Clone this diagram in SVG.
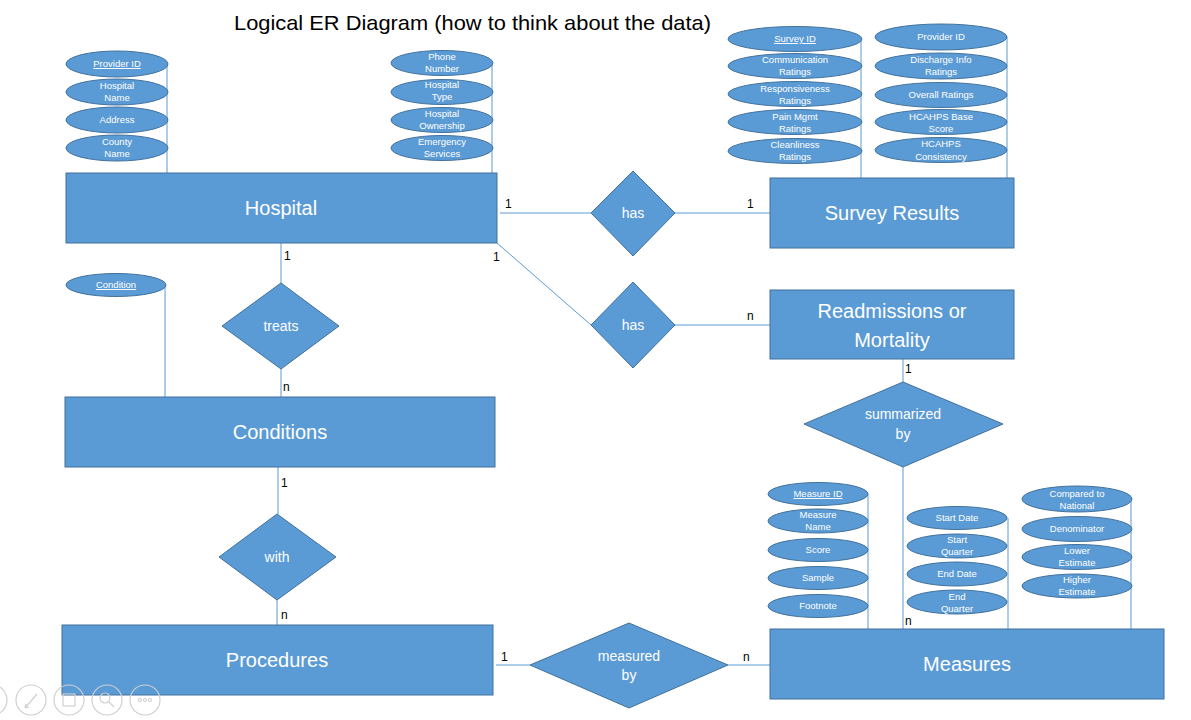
<svg xmlns="http://www.w3.org/2000/svg" width="1191" height="720" viewBox="0 0 1191 720">
<style>
.ent{fill:#5B9BD5;stroke:#41719C;stroke-width:1}
.rel{fill:#5B9BD5;stroke:#41719C;stroke-width:1}
.att{fill:#5B9BD5;stroke:#41719C;stroke-width:1}
.et{font-family:"Liberation Sans",Arial,sans-serif;font-size:20px;fill:#fff;text-anchor:middle}
.rt{font-family:"Liberation Sans",Arial,sans-serif;font-size:14px;fill:#fff;text-anchor:middle}
.at{font-family:"Liberation Sans",Arial,sans-serif;font-size:9.5px;fill:#fff;text-anchor:middle}
.u{text-decoration:underline}
.ln{stroke:#5B9BD5;stroke-width:1;fill:none}
.lb{font-family:"Liberation Sans",Arial,sans-serif;font-size:12px;fill:#000}
.ic{fill:none;stroke:#d0d0d0;stroke-width:1.2}
</style>
<rect width="1191" height="720" fill="#fff"/>
<text x="234" y="30" font-family="Liberation Sans,Arial,sans-serif" font-size="21" textLength="477" lengthAdjust="spacingAndGlyphs" fill="#000">Logical ER Diagram (how to think about the data)</text>

<g id="connectors">
<line class="ln" x1="167" y1="64" x2="167" y2="173"/>
<line class="ln" x1="492" y1="63" x2="492" y2="173"/>
<line class="ln" x1="861" y1="39" x2="861" y2="178"/>
<line class="ln" x1="1007" y1="37" x2="1007" y2="178"/>
<line class="ln" x1="165" y1="285" x2="165" y2="397"/>
<line class="ln" x1="868" y1="494" x2="868" y2="629"/>
<line class="ln" x1="1008" y1="518" x2="1008" y2="629"/>
<line class="ln" x1="1131" y1="499" x2="1131" y2="629"/>
<line class="ln" x1="500" y1="213" x2="591" y2="213"/>
<line class="ln" x1="675" y1="213" x2="770" y2="213"/>
<line class="ln" x1="497" y1="243" x2="591" y2="325"/>
<line class="ln" x1="675" y1="325" x2="770" y2="325"/>
<line class="ln" x1="281" y1="243" x2="281" y2="283"/>
<line class="ln" x1="281" y1="369" x2="281" y2="397"/>
<line class="ln" x1="278" y1="467" x2="278" y2="514"/>
<line class="ln" x1="277" y1="600" x2="277" y2="625"/>
<line class="ln" x1="496" y1="665" x2="530" y2="665"/>
<line class="ln" x1="728" y1="665" x2="770" y2="665"/>
<line class="ln" x1="903" y1="359" x2="903" y2="382"/>
<line class="ln" x1="903" y1="467" x2="903" y2="629"/>
<text class="lb" x="505" y="208">1</text>
<text class="lb" x="747" y="208">1</text>
<text class="lb" x="493" y="261">1</text>
<text class="lb" x="747" y="320">n</text>
<text class="lb" x="284" y="260">1</text>
<text class="lb" x="283" y="391">n</text>
<text class="lb" x="281" y="487">1</text>
<text class="lb" x="281" y="619">n</text>
<text class="lb" x="501" y="661">1</text>
<text class="lb" x="743" y="661">n</text>
<text class="lb" x="905" y="373">1</text>
<text class="lb" x="905" y="625">n</text>
</g>

<g id="hospital"><rect class="ent" x="66" y="173" width="431" height="70"/><text class="et" x="281" y="215">Hospital</text></g>
<g id="survey-results"><rect class="ent" x="770" y="178" width="244" height="70"/><text class="et" x="892" y="220">Survey Results</text></g>
<g id="readmissions"><rect class="ent" x="770" y="290" width="244" height="69"/><text class="et" x="892" y="318">Readmissions or</text><text class="et" x="892" y="347">Mortality</text></g>
<g id="conditions"><rect class="ent" x="65" y="397" width="430" height="70"/><text class="et" x="280" y="439">Conditions</text></g>
<g id="procedures"><rect class="ent" x="62" y="625" width="431" height="70"/><text class="et" x="277" y="667">Procedures</text></g>
<g id="measures"><rect class="ent" x="770" y="629" width="394" height="70"/><text class="et" x="967" y="671">Measures</text></g>

<g id="rel-has-survey"><polygon class="rel" points="633,171 675,213 633,256 591,213"/><text class="rt" x="633" y="218">has</text></g>
<g id="rel-has-readm"><polygon class="rel" points="633,282 675,325 633,368 591,325"/><text class="rt" x="633" y="330">has</text></g>
<g id="rel-treats"><polygon class="rel" points="281,283 339,326 281,369 222,326"/><text class="rt" x="281" y="331">treats</text></g>
<g id="rel-with"><polygon class="rel" points="277,514 336,557 277,600 219,557"/><text class="rt" x="277" y="562">with</text></g>
<g id="rel-summarized"><polygon class="rel" points="903,382 1003,424 903,467 804,424"/><text class="rt" x="903" y="419">summarized</text><text class="rt" x="903" y="439">by</text></g>
<g id="rel-measured"><polygon class="rel" points="629,623 728,665 629,708 530,665"/><text class="rt" x="629" y="661">measured</text><text class="rt" x="629" y="680">by</text></g>

<g id="attr-hospital-1">
<ellipse class="att" cx="117" cy="64" rx="51" ry="13"/><text class="at u" x="117" y="67">Provider ID</text>
<ellipse class="att" cx="117" cy="92" rx="51" ry="13"/><text class="at" x="117" y="89">Hospital</text><text class="at" x="117" y="101">Name</text>
<ellipse class="att" cx="117" cy="120" rx="51" ry="13"/><text class="at" x="117" y="123">Address</text>
<ellipse class="att" cx="117" cy="148" rx="51" ry="13"/><text class="at" x="117" y="145">County</text><text class="at" x="117" y="157">Name</text>
</g>
<g id="attr-hospital-2">
<ellipse class="att" cx="442" cy="63" rx="51" ry="12.5"/><text class="at" x="442" y="60">Phone</text><text class="at" x="442" y="72">Number</text>
<ellipse class="att" cx="442" cy="92" rx="51" ry="12.5"/><text class="at" x="442" y="88">Hospital</text><text class="at" x="442" y="100">Type</text>
<ellipse class="att" cx="442" cy="120" rx="51" ry="12.5"/><text class="at" x="442" y="117">Hospital</text><text class="at" x="442" y="129">Ownership</text>
<ellipse class="att" cx="442" cy="148" rx="51" ry="12.5"/><text class="at" x="442" y="145">Emergency</text><text class="at" x="442" y="157">Services</text>
</g>
<g id="attr-survey-1">
<ellipse class="att" cx="795" cy="39" rx="67" ry="12.5"/><text class="at u" x="795" y="42">Survey ID</text>
<ellipse class="att" cx="795" cy="66" rx="67" ry="12.5"/><text class="at" x="795" y="63">Communication</text><text class="at" x="795" y="75">Ratings</text>
<ellipse class="att" cx="795" cy="94" rx="67" ry="12.5"/><text class="at" x="795" y="92">Responsiveness</text><text class="at" x="795" y="104">Ratings</text>
<ellipse class="att" cx="795" cy="122" rx="67" ry="12.5"/><text class="at" x="795" y="120">Pain Mgmt</text><text class="at" x="795" y="132">Ratings</text>
<ellipse class="att" cx="795" cy="151" rx="67" ry="12.5"/><text class="at" x="795" y="148">Cleanliness</text><text class="at" x="795" y="160">Ratings</text>
</g>
<g id="attr-survey-2">
<ellipse class="att" cx="941" cy="37" rx="66" ry="13"/><text class="at" x="941" y="40">Provider ID</text>
<ellipse class="att" cx="941" cy="66" rx="66" ry="13"/><text class="at" x="941" y="63">Discharge Info</text><text class="at" x="941" y="75">Ratings</text>
<ellipse class="att" cx="941" cy="95" rx="66" ry="12.5"/><text class="at" x="941" y="98">Overall Ratings</text>
<ellipse class="att" cx="941" cy="122" rx="66" ry="12.5"/><text class="at" x="941" y="120">HCAHPS Base</text><text class="at" x="941" y="132">Score</text>
<ellipse class="att" cx="941" cy="150" rx="66" ry="12.5"/><text class="at" x="941" y="147">HCAHPS</text><text class="at" x="941" y="160">Consistency</text>
</g>
<g id="attr-condition">
<ellipse class="att" cx="116" cy="285" rx="50" ry="11.5"/><text class="at u" x="116" y="288">Condition</text>
</g>
<g id="attr-measures-1">
<ellipse class="att" cx="818" cy="494" rx="50" ry="11.5"/><text class="at u" x="818" y="497">Measure ID</text>
<ellipse class="att" cx="818" cy="521" rx="50" ry="12"/><text class="at" x="818" y="518">Measure</text><text class="at" x="818" y="530">Name</text>
<ellipse class="att" cx="818" cy="550" rx="50" ry="11.5"/><text class="at" x="818" y="553">Score</text>
<ellipse class="att" cx="818" cy="578" rx="50" ry="11.5"/><text class="at" x="818" y="581">Sample</text>
<ellipse class="att" cx="818" cy="606" rx="50" ry="11.5"/><text class="at" x="818" y="609">Footnote</text>
</g>
<g id="attr-measures-2">
<ellipse class="att" cx="957" cy="518" rx="50" ry="11.5"/><text class="at" x="957" y="521">Start Date</text>
<ellipse class="att" cx="957" cy="546" rx="50" ry="12"/><text class="at" x="957" y="543">Start</text><text class="at" x="957" y="555">Quarter</text>
<ellipse class="att" cx="957" cy="574" rx="50" ry="12"/><text class="at" x="957" y="577">End Date</text>
<ellipse class="att" cx="957" cy="602" rx="50" ry="12"/><text class="at" x="957" y="600">End</text><text class="at" x="957" y="612">Quarter</text>
</g>
<g id="attr-measures-3">
<ellipse class="att" cx="1077" cy="499" rx="55" ry="13"/><text class="at" x="1077" y="497">Compared to</text><text class="at" x="1077" y="509">National</text>
<ellipse class="att" cx="1077" cy="529" rx="55" ry="12.5"/><text class="at" x="1077" y="532">Denominator</text>
<ellipse class="att" cx="1077" cy="557" rx="55" ry="12.5"/><text class="at" x="1077" y="554">Lower</text><text class="at" x="1077" y="566">Estimate</text>
<ellipse class="att" cx="1077" cy="586" rx="55" ry="12"/><text class="at" x="1077" y="583">Higher</text><text class="at" x="1077" y="595">Estimate</text>
</g>

<g id="overlay-controls">
<circle class="ic" cx="-8" cy="700" r="15"/>
<circle class="ic" cx="31" cy="700" r="15"/>
<path class="ic" d="M25,708 L37,694 M25,708 l1,-4 M25,708 l4,-1"/>
<circle class="ic" cx="69" cy="700" r="15"/>
<rect class="ic" x="63" y="694" width="12" height="12"/>
<circle class="ic" cx="107" cy="700" r="15"/>
<circle class="ic" cx="105" cy="698" r="5"/>
<line class="ic" x1="109" y1="702" x2="114" y2="707"/>
<circle class="ic" cx="145" cy="700" r="15"/>
<circle class="ic" cx="140" cy="700" r="1.5"/><circle class="ic" cx="145" cy="700" r="1.5"/><circle class="ic" cx="150" cy="700" r="1.5"/>
</g>
</svg>
